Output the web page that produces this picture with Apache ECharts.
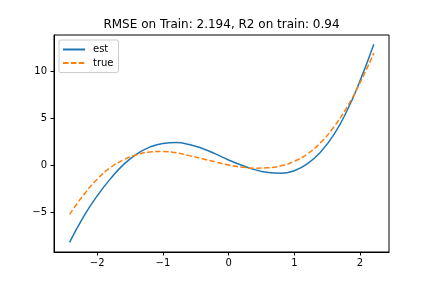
<!DOCTYPE html>
<html>
<head>
<meta charset="utf-8">
<script src="https://cdn.jsdelivr.net/npm/echarts@6/dist/echarts.min.js"></script>
<style>
html,body{margin:0;padding:0;background:#fff;}
#chart{width:432px;height:288px;}
</style>
</head>
<body>
<div id="chart"></div>
<script>
var titleText = 'RMSE on Train: 2.194, R2 on train: 0.94';
var seriesNames = ['est', 'true'];
var xs = [-2.42, -2.2, -2.0, -1.8, -1.6, -1.4, -1.2, -1.0, -0.8, -0.6, -0.4, -0.2, 0.0, 0.2, 0.4, 0.6, 0.8, 1.0, 1.2, 1.4, 1.6, 1.8, 2.0, 2.21];
var estY = [-8.18, -5.38, -3.26, -1.45, 0.06, 1.18, 1.92, 2.31, 2.40, 2.20, 1.78, 1.20, 0.56, 0.0, -0.47, -0.78, -0.86, -0.58, 0.16, 1.40, 3.22, 5.75, 8.95, 12.83];
var trueY = [-5.21, -3.1, -1.48, -0.26, 0.56, 1.10, 1.40, 1.46, 1.32, 1.02, 0.69, 0.35, 0.02, -0.20, -0.31, -0.27, -0.06, 0.42, 1.20, 2.40, 4.05, 6.15, 8.75, 11.9];
var xTicks = [-2, -1, 0, 1, 2];
var yTicks = [-5, 0, 5, 10];

function pairs(x, y) { return x.map(function (v, i) { return [v, y[i]]; }); }
function fmt(v) { return String(v).replace('-', '\u2212'); }

var font = 'DejaVu Sans';
var chart = echarts.init(document.getElementById('chart'), null, {renderer: 'canvas'});
chart.setOption({
  animation: false,
  backgroundColor: '#ffffff',
  title: {
    text: titleText,
    left: 221.5,
    top: 19,
    padding: 0,
    textAlign: 'center',
    textStyle: {fontFamily: font, fontSize: 12, fontWeight: 'normal', color: '#000'}
  },
  legend: {
    orient: 'vertical',
    left: 59,
    top: 40,
    padding: [4.5, 5, 4.5, 3],
    itemWidth: 22,
    itemHeight: 12,
    itemGap: 3.6,
    backgroundColor: 'rgba(255,255,255,0.8)',
    borderColor: '#cccccc',
    borderWidth: 1,
    borderRadius: 2,
    itemStyle: {color: 'rgba(0,0,0,0)', borderColor: 'rgba(0,0,0,0)', borderWidth: 0},
    textStyle: {fontFamily: font, fontSize: 10, color: '#000', padding: [0, 0, 0, 3]},
    data: seriesNames
  },
  grid: {
    left: 54, right: 43, top: 35, bottom: 36,
    show: true, borderColor: '#000', borderWidth: 1, backgroundColor: 'transparent'
  },
  xAxis: {
    type: 'value',
    min: -2.657, max: 2.441,
    axisLine: {show: true, onZero: false, lineStyle: {color: '#000', width: 1}},
    axisTick: {show: true, length: 3.5, lineStyle: {color: '#000', width: 1}, customValues: xTicks},
    axisLabel: {show: true, margin: 6, color: '#000', fontFamily: font, fontSize: 10, customValues: xTicks, formatter: fmt},
    splitLine: {show: false}
  },
  yAxis: {
    type: 'value',
    min: -9.21, max: 13.82,
    axisLine: {show: true, onZero: false, lineStyle: {color: '#000', width: 1}},
    axisTick: {show: true, length: 3.5, lineStyle: {color: '#000', width: 1}, customValues: yTicks},
    axisLabel: {show: true, margin: 7, color: '#000', fontFamily: font, fontSize: 10, customValues: yTicks, formatter: fmt},
    splitLine: {show: false}
  },
  series: [
    {
      name: seriesNames[0], type: 'line', data: pairs(xs, estY),
      smooth: 0.5, symbol: 'none', showSymbol: false,
      lineStyle: {color: '#1f77b4', width: 1.5},
      itemStyle: {color: '#1f77b4'}
    },
    {
      name: seriesNames[1], type: 'line', data: pairs(xs, trueY),
      smooth: 0.5, symbol: 'none', showSymbol: false,
      lineStyle: {color: '#ff7f0e', width: 1.5, type: [5.5, 2.4]},
      itemStyle: {color: '#ff7f0e'}
    }
  ]
});
</script>
</body>
</html>
